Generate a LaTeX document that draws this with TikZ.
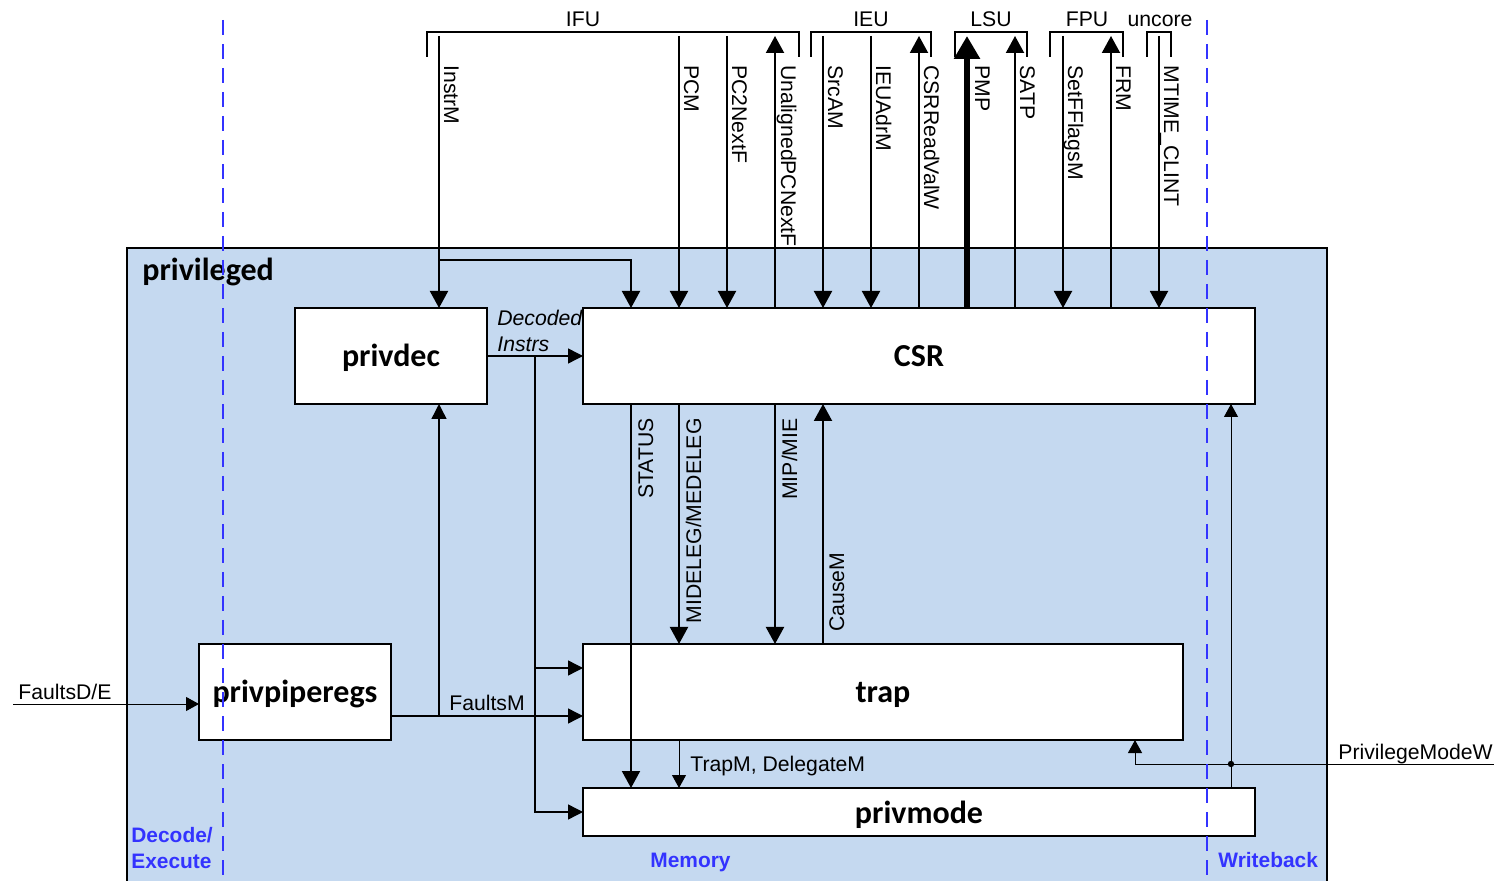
\documentclass[tikz,border=0pt]{standalone}
\usepackage{fontspec}
\setmainfont{Liberation Sans}
\newfontfamily\blockfamily{Carlito}
\usetikzlibrary{arrows.meta,calc}

\definecolor{privfill}{RGB}{197,217,240}
\definecolor{stageblue}{RGB}{51,51,255}

\newcommand{\sigfont}{\fontsize{10.6}{12.7}\selectfont}
\newcommand{\blkfont}{\blockfamily\bfseries\fontsize{16}{18}\selectfont}
\newcommand{\stgfont}{\bfseries\fontsize{10.45}{13}\selectfont}

\begin{document}
\begin{tikzpicture}[x=0.5pt,y=-0.5pt,
  font=\sigfont,
  bigtip/.tip={Triangle[length=8.5pt,width=9pt]},
  midtip/.tip={Triangle[length=7.5pt,width=7.5pt]},
  smalltip/.tip={Triangle[length=6.5pt,width=7pt]},
  bus/.style={line width=1pt,-bigtip},
  widebus/.style={line width=3pt,-{Triangle[length=11.5pt,width=12.5pt]}},
  wire/.style={line width=0.7pt,-midtip},
  thinwire/.style={line width=0.5pt,-smalltip},
  bracket/.style={line width=0.75pt},
  block/.style={draw,fill=white,line width=1pt,inner sep=0pt,outer sep=0pt,
    font=\blkfont,text height=14pt,text depth=3pt},
  downlab/.style={rotate=-90,anchor=base west,inner sep=0pt},
  uplab/.style={rotate=90,anchor=base east,inner sep=0pt},
  stage/.style={draw=stageblue,line width=1pt,dash pattern=on 7.5pt off 4.5pt},
  stagelab/.style={text=stageblue,font=\stgfont,inner sep=0pt}
]
\useasboundingbox (0,0) rectangle (1494,881);

% enclosing unit
\node[draw,fill=privfill,line width=1pt,inner sep=0pt,outer sep=0pt,
  minimum width=600pt,minimum height=318pt,anchor=north west] (priv) at (127,248) {};
\node[font=\blkfont,anchor=base west,inner sep=0pt] (privtitle) at (142,281) {privileged};

% blocks
\node[block,minimum width=96pt,minimum height=48pt]  (privdec)  at (391,356) {privdec};
\node[block,minimum width=336pt,minimum height=48pt] (csr)      at (919,356) {CSR};
\node[block,minimum width=96pt,minimum height=48pt]  (pipe)     at (295,692) {privpiperegs};
\node[block,minimum width=300pt,minimum height=48pt] (trap)     at (883,692) {trap};
\node[block,minimum width=336pt,minimum height=24pt] (privmode) at (919,812) {privmode};

% unit brackets at the top
\draw[bracket] (427,57) |- (799,32) -- (799,57);
\draw[bracket] (811,57) |- (931,32) -- (931,57);
\draw[bracket] (955,57) |- (1027,32) -- (1027,57);
\draw[bracket] (1050,57) |- (1123,32) -- (1123,57);
\draw[bracket] (1147,57) |- (1171,32) -- (1171,57);
\node[anchor=base] (ifu)    at (583,27)  {IFU};
\node[anchor=base] (ieu)    at (871,27)  {IEU};
\node[anchor=base] (lsu)    at (991,27)  {LSU};
\node[anchor=base] (fpu)    at (1087,27) {FPU};
\node[anchor=base] (uncore) at (1160,27) {uncore};

% ports on the brackets
\coordinate (pInstrM)  at (439,36);
\coordinate (pPCM)     at (679,36);
\coordinate (pPCtwo)   at (727,36);
\coordinate (pUPC)     at (775,36);
\coordinate (pSrcAM)   at (823,36);
\coordinate (pAdrM)    at (871,36);
\coordinate (pRead)    at (919,36);
\coordinate (pPMP)     at (967,36);
\coordinate (pSATP)    at (1015,36);
\coordinate (pFlags)   at (1063,36);
\coordinate (pFRM)     at (1111,36);
\coordinate (pMTIME)   at (1159,36);

% InstrM into privdec and CSR
\coordinate (instrsplit) at (439,260);
\draw[bus] (pInstrM) -- (privdec.north -| pInstrM);
\draw[bus] (instrsplit) -| (csr.north -| 631,0);

% signals into CSR
\draw[bus] (pPCM)   -- (csr.north -| pPCM);
\draw[bus] (pPCtwo) -- (csr.north -| pPCtwo);
\draw[bus] (pSrcAM) -- (csr.north -| pSrcAM);
\draw[bus] (pAdrM)  -- (csr.north -| pAdrM);
\draw[bus] (pFlags) -- (csr.north -| pFlags);
\draw[bus] (pMTIME) -- (csr.north -| pMTIME);

% signals out of CSR
\draw[bus] (csr.north -| pUPC)  -- (pUPC);
\draw[bus] (csr.north -| pRead) -- (pRead);
\draw[bus] (csr.north -| pSATP) -- (pSATP);
\draw[bus] (csr.north -| pFRM)  -- (pFRM);
\draw[widebus] (csr.north -| pPMP) -- (pPMP);

% top signal names
\node[downlab] (lInstrM) at ($(pInstrM)+(5,29)$) {InstrM};
\node[downlab] (lPCM)    at ($(pPCM)+(5,29)$)    {PCM};
\node[downlab] (lPCtwo)  at ($(pPCtwo)+(5,29)$)  {PC2NextF};
\node[downlab] (lUPC)    at ($(pUPC)+(6,29)$)    {UnalignedPCNextF};
\node[downlab] (lSrcAM)  at ($(pSrcAM)+(5,29)$)  {SrcAM};
\node[downlab] (lAdrM)   at ($(pAdrM)+(5,29)$)   {IEUAdrM};
\node[downlab] (lRead)   at ($(pRead)+(5,29)$)   {CSRReadValW};
\node[downlab] (lPMP)    at ($(pPMP)+(8,29)$)    {PMP};
\node[downlab] (lSATP)   at ($(pSATP)+(5,29)$)   {SATP};
\node[downlab] (lFlags)  at ($(pFlags)+(5,29)$)  {SetFFlagsM};
\node[downlab] (lFRM)    at ($(pFRM)+(5,29)$)    {FRM};
\node[downlab] (lMTIME)  at ($(pMTIME)+(5,29)$)  {MTIME\_CLINT};

% decoded instructions
\coordinate (decsplit) at (535,356);
\draw[wire] (privdec.east) -- (csr.west);
\draw[wire] (decsplit) |- ($(trap.west)+(0,-24)$);
\draw[wire] (decsplit) |- (privmode.west);
\node[anchor=base west,inner sep=0pt,font=\sigfont\itshape] (ldec1) at (497,326) {Decoded};
\node[anchor=base west,inner sep=0pt,font=\sigfont\itshape] (ldec2) at (497,352) {Instrs};

% faults through the pipeline registers
\coordinate (fde) at (13,704);
\draw[thinwire] (fde) -- (fde -| pipe.west);
\node[anchor=base west,inner sep=0pt] (lfde) at (18,699) {FaultsD/E};
\coordinate (fmsplit) at (439,716);
\draw[wire] ($(pipe.east)+(0,24)$) -- ($(trap.west)+(0,24)$);
\draw[wire] (fmsplit) -- (privdec.south -| fmsplit);
\node[anchor=base,inner sep=0pt] (lfm) at (487,711) {FaultsM};

% CSR <-> trap / privmode
\draw[bus] (csr.south -| 631,0) -- (privmode.north -| 631,0);
\draw[bus] (csr.south -| 679,0) -- (trap.north -| 679,0);
\draw[bus] (csr.south -| 775,0) -- (trap.north -| 775,0);
\draw[bus] (trap.north -| 823,0) -- (csr.south -| 823,0);
\node[uplab] (lstatus) at (653,418) {STATUS};
\node[uplab] (ldeleg)  at (701,418) {MIDELEG/MEDELEG};
\node[uplab] (lmip)    at (797,418) {MIP/MIE};
\node[rotate=90,anchor=base west,inner sep=0pt] (lcause) at (844,632) {CauseM};

% trap -> privmode
\draw[thinwire] (trap.south -| 679,0) -- (privmode.north -| 679,0);
\node[anchor=base west,inner sep=0pt] (ltrapm) at (690,771) {TrapM, DelegateM};

% privilege mode feedback
\coordinate (pmw) at (1494,764);
\coordinate (pmwdot) at (1231,764);
\draw[thinwire] (privmode.north -| pmwdot) -- (csr.south -| pmwdot);
\draw[thinwire] (pmw) -| (trap.south -| 1135,0);
\fill (pmwdot) circle (1.6pt);
\node[anchor=base west,inner sep=0pt] (lpmw) at (1338,759) {PrivilegeModeW};

% pipeline stage boundaries
\draw[stage] (223,20) -- (223,881);
\draw[stage] (1207,20) -- (1207,881);
\node[stagelab,anchor=base west,align=left] (sde) at (131,868) {Decode/\\Execute};
\node[stagelab,anchor=base west] (smem) at (650,867) {Memory};
\node[stagelab,anchor=base west] (swb)  at (1218,867) {Writeback};
\end{tikzpicture}
\end{document}
